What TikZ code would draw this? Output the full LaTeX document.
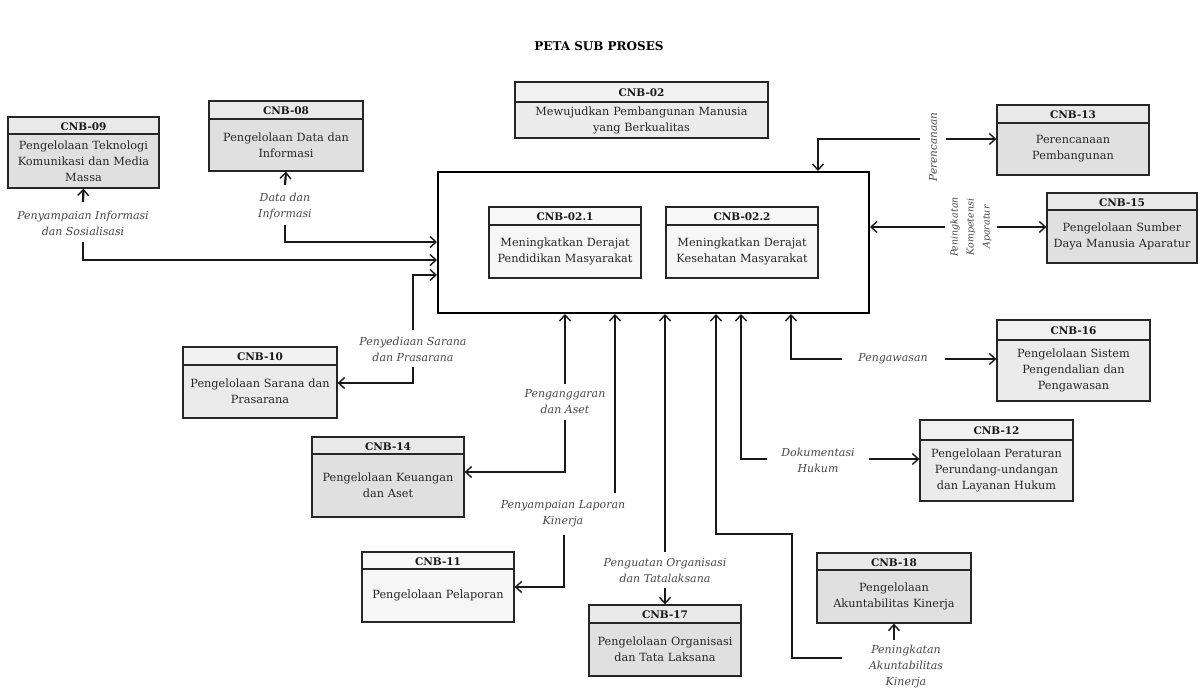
\documentclass[tikz,border=0pt]{standalone}
\usepackage{fontspec}
\setmainfont{DejaVu Serif}
\usetikzlibrary{arrows.meta}
\tikzset{
  boxframe/.style={draw=black!85, line width=1.3pt, inner sep=0pt},
  boxline/.style={draw=black!85, line width=1.3pt},
  titletext/.style={font=\fontsize{10.5}{12}\selectfont\bfseries, text=black!90, inner sep=0pt},
  bodytext/.style={font=\fontsize{11.3}{16}\selectfont, text=black!85, align=center, inner sep=0pt},
  lbl/.style={font=\fontsize{11}{16}\selectfont\itshape, text=black!72, align=center, inner sep=0pt},
  rlbl/.style={font=\fontsize{9.5}{16}\selectfont\itshape, text=black!72, align=center, inner sep=0pt, rotate=90},
  conn/.style={line width=2.2pt, draw=black!90},
  arr/.style={conn, -{Straight Barb[length=6pt,width=11pt,line width=1.4pt]}},
  darkbox/.style={fill=gray!24},
  midbox/.style={fill=gray!16},
  lightbox/.style={fill=gray!7},
}
\newcommand\cnb[9]{%
  \pgfmathsetmacro\bw{#4-#2}\pgfmathsetmacro\bh{#5-#3}\pgfmathsetmacro\tw{#4-#2-4}%
  \fill[#7] (#2,#3) rectangle (#4,#5);
  \fill[white,opacity=0.3] (#2,#3) rectangle (#4,#6);
  \node[boxframe, minimum width=\bw pt, minimum height=\bh pt] (#1) at ({(#2+#4)/2},{(#3+#5)/2}) {};
  \draw[boxline] (#2,#6) -- (#4,#6);
  \node[titletext] (#1-t) at ({(#2+#4)/2},{(#3+#6)/2+1}) {#8};
  \node[bodytext, text width=\tw pt] (#1-b) at ({(#2+#4)/2},{(#6+#5)/2}) {#9};
}
\begin{document}
\begin{tikzpicture}[x=1pt,y=-1pt]
\useasboundingbox (0,0) rectangle (1198,692);
\fill[white] (0,0) rectangle (1198,692);
\node[font=\fontsize{12}{14}\selectfont\bfseries] (title) at (599,46) {PETA SUB PROSES};

% main box
\node[draw=black, line width=2.4pt, minimum width=431pt, minimum height=141pt, inner sep=0pt] (main) at (653.5,242.5) {};

% boxes
\cnb{c09}{8}{117}{159}{188}{134}{darkbox}{CNB-09}{Pengelolaan Teknologi\\Komunikasi dan Media\\Massa}
\cnb{c08}{209}{101}{363}{171}{119}{darkbox}{CNB-08}{Pengelolaan Data dan\\Informasi}
\cnb{c02}{515}{82}{768}{138}{102}{midbox}{CNB-02}{Mewujudkan Pembangunan Manusia\\yang Berkualitas}
\cnb{c021}{489}{207}{641}{278}{225}{lightbox}{CNB-02.1}{Meningkatkan Derajat\\Pendidikan Masyarakat}
\cnb{c022}{666}{207}{818}{278}{225}{lightbox}{CNB-02.2}{Meningkatkan Derajat\\Kesehatan Masyarakat}
\cnb{c13}{997}{105}{1149}{175}{123}{darkbox}{CNB-13}{Perencanaan\\Pembangunan}
\cnb{c15}{1047}{193}{1197}{263}{210}{darkbox}{CNB-15}{Pengelolaan Sumber\\Daya Manusia Aparatur}
\cnb{c16}{997}{320}{1150}{401}{340}{midbox}{CNB-16}{Pengelolaan Sistem\\Pengendalian dan\\Pengawasan}
\cnb{c10}{183}{347}{337}{418}{365}{midbox}{CNB-10}{Pengelolaan Sarana dan\\Prasarana}
\cnb{c14}{312}{437}{464}{517}{454}{darkbox}{CNB-14}{Pengelolaan Keuangan\\dan Aset}
\cnb{c12}{920}{420}{1073}{501}{440}{midbox}{CNB-12}{Pengelolaan Peraturan\\Perundang-undangan\\dan Layanan Hukum}
\cnb{c11}{362}{552}{514}{622}{569}{lightbox}{CNB-11}{Pengelolaan Pelaporan}
\cnb{c17}{589}{605}{741}{676}{623}{darkbox}{CNB-17}{Pengelolaan Organisasi\\dan Tata Laksana}
\cnb{c18}{817}{553}{971}{623}{570}{darkbox}{CNB-18}{Pengelolaan\\Akuntabilitas Kinerja}

% labels
\node[lbl] (l09) at (83,223) {Penyampaian Informasi\\dan Sosialisasi};
\node[lbl] (l08) at (285,206) {Data dan\\Informasi};
\node[lbl] (l10) at (413,349) {Penyediaan Sarana\\dan Prasarana};
\node[lbl] (l14) at (565,402) {Penganggaran\\dan Aset};
\node[lbl] (l11) at (563,514) {Penyampaian Laporan\\Kinerja};
\node[lbl] (l17) at (665,570) {Penguatan Organisasi\\dan Tatalaksana};
\node[lbl] (l18) at (906,667) {Peningkatan\\Akuntabilitas\\Kinerja};
\node[lbl] (l12) at (818,460) {Dokumentasi\\Hukum};
\node[lbl] (l16) at (893,359) {Pengawasan};
\node[rlbl, font=\fontsize{10.5}{16}\selectfont\itshape] (l13) at (933,147) {Perencanaan};
\node[rlbl] (l15) at (971,227) {Peningkatan\\Kompetensi\\Aparatur};

% connectors
\draw[arr] (83,202) -- (c09.south);
\draw[arr] (83,242) -- (83,260) -- (437,260);
\draw[arr] (285,185) -- (c08.south);
\draw[arr] (285,225) -- (285,242) -- (437,242);
\draw[arr] (413,330) -- (413,275) -- (437,275);
\draw[arr] (413,367) -- (413,383) -- (c10.east |- 0,383);
\draw[arr] (565,384) -- (565,314);
\draw[arr] (565,420) -- (565,472) -- (c14.east |- 0,472);
\draw[arr] (615,493) -- (615,314);
\draw[arr] (564,535) -- (564,587) -- (c11.east |- 0,587);
\draw[arr] (665,552) -- (665,314);
\draw[arr] (665,588) -- (c17.north);
\draw[arr] (842,658) -- (792,658) -- (792,534) -- (716,534) -- (716,314);
\draw[arr] (894,640) -- (c18.south -| 894,0);
\draw[arr] (767,459) -- (741,459) -- (741,314);
\draw[arr] (869,459) -- (c12.west |- 0,459);
\draw[arr] (842,359) -- (791,359) -- (791,314);
\draw[arr] (945,359) -- (c16.west |- 0,359);
\draw[arr] (920,139) -- (818,139) -- (818,171);
\draw[arr] (946,139) -- (c13.west |- 0,139);
\draw[arr] (945,227) -- (870,227);
\draw[arr] (997,227) -- (c15.west |- 0,227);
\end{tikzpicture}
\end{document}
